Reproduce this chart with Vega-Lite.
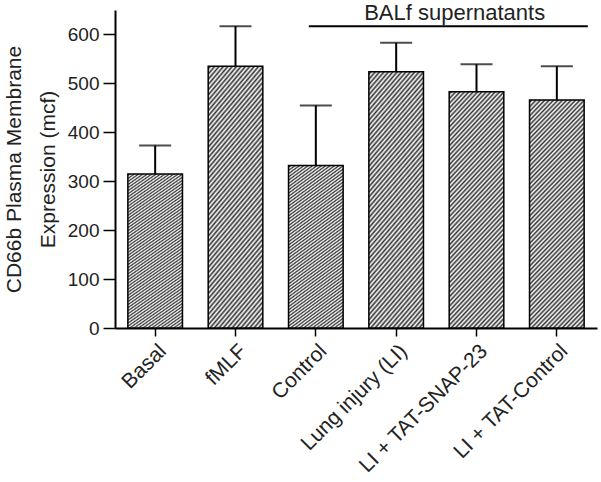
{
  "$schema": "https://vega.github.io/schema/vega-lite/v6.json",
  "width": 482,
  "height": 318,
  "autosize": {"type": "none"},
  "padding": {"left": 115, "top": 10, "right": 4, "bottom": 154},
  "background": "white",
  "config": {
    "view": {"stroke": null},
    "font": "Liberation Sans",
    "axis": {
      "labelFont": "Liberation Sans",
      "titleFont": "Liberation Sans",
      "labelColor": "#222",
      "titleColor": "#222",
      "domainColor": "black",
      "tickColor": "black",
      "domainWidth": 2,
      "tickWidth": 1.5,
      "grid": false
    }
  },
  "datasets": {
    "bars": [
      {"group": "Basal", "value": 315, "upper": 373},
      {"group": "fMLF", "value": 535, "upper": 617},
      {"group": "Control", "value": 332, "upper": 455},
      {"group": "Lung injury (LI)", "value": 524, "upper": 583},
      {"group": "LI + TAT-SNAP-23", "value": 483, "upper": 539},
      {"group": "LI + TAT-Control", "value": 466, "upper": 535}
    ],
    "bracket": [
      {"start": "Control", "end": "LI + TAT-Control", "mid": "LI + TAT-SNAP-23", "level": 617, "label": "BALf supernatants"}
    ]
  },
  "layer": [
    {
      "data": {"name": "bars"},
      "mark": {
        "type": "bar",
        "stroke": "black",
        "strokeWidth": 1.5,
        "fill": {
          "gradient": "linear",
          "x1": 0, "y1": 0, "x2": 0.2918, "y2": 1.1757,
          "stops": [
            {"offset": 0, "color": "#fff"}, {"offset": 0.008, "color": "#333"},
            {"offset": 0.016, "color": "#fff"}, {"offset": 0.024, "color": "#333"},
            {"offset": 0.032, "color": "#fff"}, {"offset": 0.04, "color": "#333"},
            {"offset": 0.048, "color": "#fff"}, {"offset": 0.056, "color": "#333"},
            {"offset": 0.064, "color": "#fff"}, {"offset": 0.072, "color": "#333"},
            {"offset": 0.08, "color": "#fff"}, {"offset": 0.088, "color": "#333"},
            {"offset": 0.096, "color": "#fff"}, {"offset": 0.104, "color": "#333"},
            {"offset": 0.112, "color": "#fff"}, {"offset": 0.12, "color": "#333"},
            {"offset": 0.128, "color": "#fff"}, {"offset": 0.136, "color": "#333"},
            {"offset": 0.144, "color": "#fff"}, {"offset": 0.152, "color": "#333"},
            {"offset": 0.16, "color": "#fff"}, {"offset": 0.168, "color": "#333"},
            {"offset": 0.176, "color": "#fff"}, {"offset": 0.184, "color": "#333"},
            {"offset": 0.192, "color": "#fff"}, {"offset": 0.2, "color": "#333"},
            {"offset": 0.208, "color": "#fff"}, {"offset": 0.216, "color": "#333"},
            {"offset": 0.224, "color": "#fff"}, {"offset": 0.232, "color": "#333"},
            {"offset": 0.24, "color": "#fff"}, {"offset": 0.248, "color": "#333"},
            {"offset": 0.256, "color": "#fff"}, {"offset": 0.264, "color": "#333"},
            {"offset": 0.272, "color": "#fff"}, {"offset": 0.28, "color": "#333"},
            {"offset": 0.288, "color": "#fff"}, {"offset": 0.296, "color": "#333"},
            {"offset": 0.304, "color": "#fff"}, {"offset": 0.312, "color": "#333"},
            {"offset": 0.32, "color": "#fff"}, {"offset": 0.328, "color": "#333"},
            {"offset": 0.336, "color": "#fff"}, {"offset": 0.344, "color": "#333"},
            {"offset": 0.352, "color": "#fff"}, {"offset": 0.36, "color": "#333"},
            {"offset": 0.368, "color": "#fff"}, {"offset": 0.376, "color": "#333"},
            {"offset": 0.384, "color": "#fff"}, {"offset": 0.392, "color": "#333"},
            {"offset": 0.4, "color": "#fff"}, {"offset": 0.408, "color": "#333"},
            {"offset": 0.416, "color": "#fff"}, {"offset": 0.424, "color": "#333"},
            {"offset": 0.432, "color": "#fff"}, {"offset": 0.44, "color": "#333"},
            {"offset": 0.448, "color": "#fff"}, {"offset": 0.456, "color": "#333"},
            {"offset": 0.464, "color": "#fff"}, {"offset": 0.472, "color": "#333"},
            {"offset": 0.48, "color": "#fff"}, {"offset": 0.488, "color": "#333"},
            {"offset": 0.496, "color": "#fff"}, {"offset": 0.504, "color": "#333"},
            {"offset": 0.512, "color": "#fff"}, {"offset": 0.52, "color": "#333"},
            {"offset": 0.528, "color": "#fff"}, {"offset": 0.536, "color": "#333"},
            {"offset": 0.544, "color": "#fff"}, {"offset": 0.552, "color": "#333"},
            {"offset": 0.56, "color": "#fff"}, {"offset": 0.568, "color": "#333"},
            {"offset": 0.576, "color": "#fff"}, {"offset": 0.584, "color": "#333"},
            {"offset": 0.592, "color": "#fff"}, {"offset": 0.6, "color": "#333"},
            {"offset": 0.608, "color": "#fff"}, {"offset": 0.616, "color": "#333"},
            {"offset": 0.624, "color": "#fff"}, {"offset": 0.632, "color": "#333"},
            {"offset": 0.64, "color": "#fff"}, {"offset": 0.648, "color": "#333"},
            {"offset": 0.656, "color": "#fff"}, {"offset": 0.664, "color": "#333"},
            {"offset": 0.672, "color": "#fff"}, {"offset": 0.68, "color": "#333"},
            {"offset": 0.688, "color": "#fff"}, {"offset": 0.696, "color": "#333"},
            {"offset": 0.704, "color": "#fff"}, {"offset": 0.712, "color": "#333"},
            {"offset": 0.72, "color": "#fff"}, {"offset": 0.728, "color": "#333"},
            {"offset": 0.736, "color": "#fff"}, {"offset": 0.744, "color": "#333"},
            {"offset": 0.752, "color": "#fff"}, {"offset": 0.76, "color": "#333"},
            {"offset": 0.768, "color": "#fff"}, {"offset": 0.776, "color": "#333"},
            {"offset": 0.784, "color": "#fff"}, {"offset": 0.792, "color": "#333"},
            {"offset": 0.8, "color": "#fff"}, {"offset": 0.808, "color": "#333"},
            {"offset": 0.816, "color": "#fff"}, {"offset": 0.824, "color": "#333"},
            {"offset": 0.832, "color": "#fff"}, {"offset": 0.84, "color": "#333"},
            {"offset": 0.848, "color": "#fff"}, {"offset": 0.856, "color": "#333"},
            {"offset": 0.864, "color": "#fff"}, {"offset": 0.872, "color": "#333"},
            {"offset": 0.88, "color": "#fff"}, {"offset": 0.888, "color": "#333"},
            {"offset": 0.896, "color": "#fff"}, {"offset": 0.904, "color": "#333"},
            {"offset": 0.912, "color": "#fff"}, {"offset": 0.92, "color": "#333"},
            {"offset": 0.928, "color": "#fff"}, {"offset": 0.936, "color": "#333"},
            {"offset": 0.944, "color": "#fff"}, {"offset": 0.952, "color": "#333"},
            {"offset": 0.96, "color": "#fff"}, {"offset": 0.968, "color": "#333"},
            {"offset": 0.976, "color": "#fff"}, {"offset": 0.984, "color": "#333"},
            {"offset": 0.992, "color": "#fff"}, {"offset": 1, "color": "#333"}
          ]
        }
      },
      "encoding": {
        "x": {
          "field": "group",
          "type": "nominal",
          "sort": null,
          "scale": {
            "domain": ["Basal", "fMLF", "Control", "Lung injury (LI)", "LI + TAT-SNAP-23", "LI + TAT-Control"],
            "paddingInner": 0.32,
            "paddingOuter": 0.16
          },
          "axis": {
            "title": null,
            "labelAngle": -45,
            "labelFontSize": 21,
            "tickSize": 8,
            "labelPadding": 4
          }
        },
        "y": {
          "field": "value",
          "type": "quantitative",
          "scale": {"domain": [0, 650], "nice": false},
          "axis": {
            "title": ["CD66b Plasma Membrane", "Expression (mcf)"],
            "titleFontSize": 21,
            "titleFontWeight": "normal",
            "titleLineHeight": 34,
            "titlePadding": 9,
            "values": [0, 100, 200, 300, 400, 500, 600],
            "labelFontSize": 19,
            "labelPadding": 4,
            "tickSize": 12
          }
        }
      }
    },
    {
      "data": {"name": "bars"},
      "mark": {"type": "rule", "color": "black", "strokeWidth": 2},
      "encoding": {
        "x": {"field": "group", "type": "nominal", "sort": null},
        "y": {"field": "value", "type": "quantitative"},
        "y2": {"field": "upper"}
      }
    },
    {
      "data": {"name": "bars"},
      "mark": {"type": "tick", "color": "black", "size": 32, "thickness": 2, "orient": "horizontal"},
      "encoding": {
        "x": {"field": "group", "type": "nominal", "sort": null},
        "y": {"field": "upper", "type": "quantitative"}
      }
    },
    {
      "data": {"name": "bracket"},
      "mark": {"type": "rule", "color": "black", "strokeWidth": 2, "xOffset": -7, "x2Offset": 31},
      "encoding": {
        "x": {"field": "start", "type": "nominal", "sort": null},
        "x2": {"field": "end"},
        "y": {"field": "level", "type": "quantitative"}
      }
    },
    {
      "data": {"name": "bracket"},
      "mark": {"type": "text", "fontSize": 22, "color": "#222", "baseline": "alphabetic", "align": "center", "dy": -6, "font": "Liberation Sans"},
      "encoding": {
        "x": {"field": "mid", "type": "nominal", "sort": null, "bandPosition": 0.1},
        "y": {"field": "level", "type": "quantitative"},
        "text": {"field": "label"}
      }
    }
  ]
}
